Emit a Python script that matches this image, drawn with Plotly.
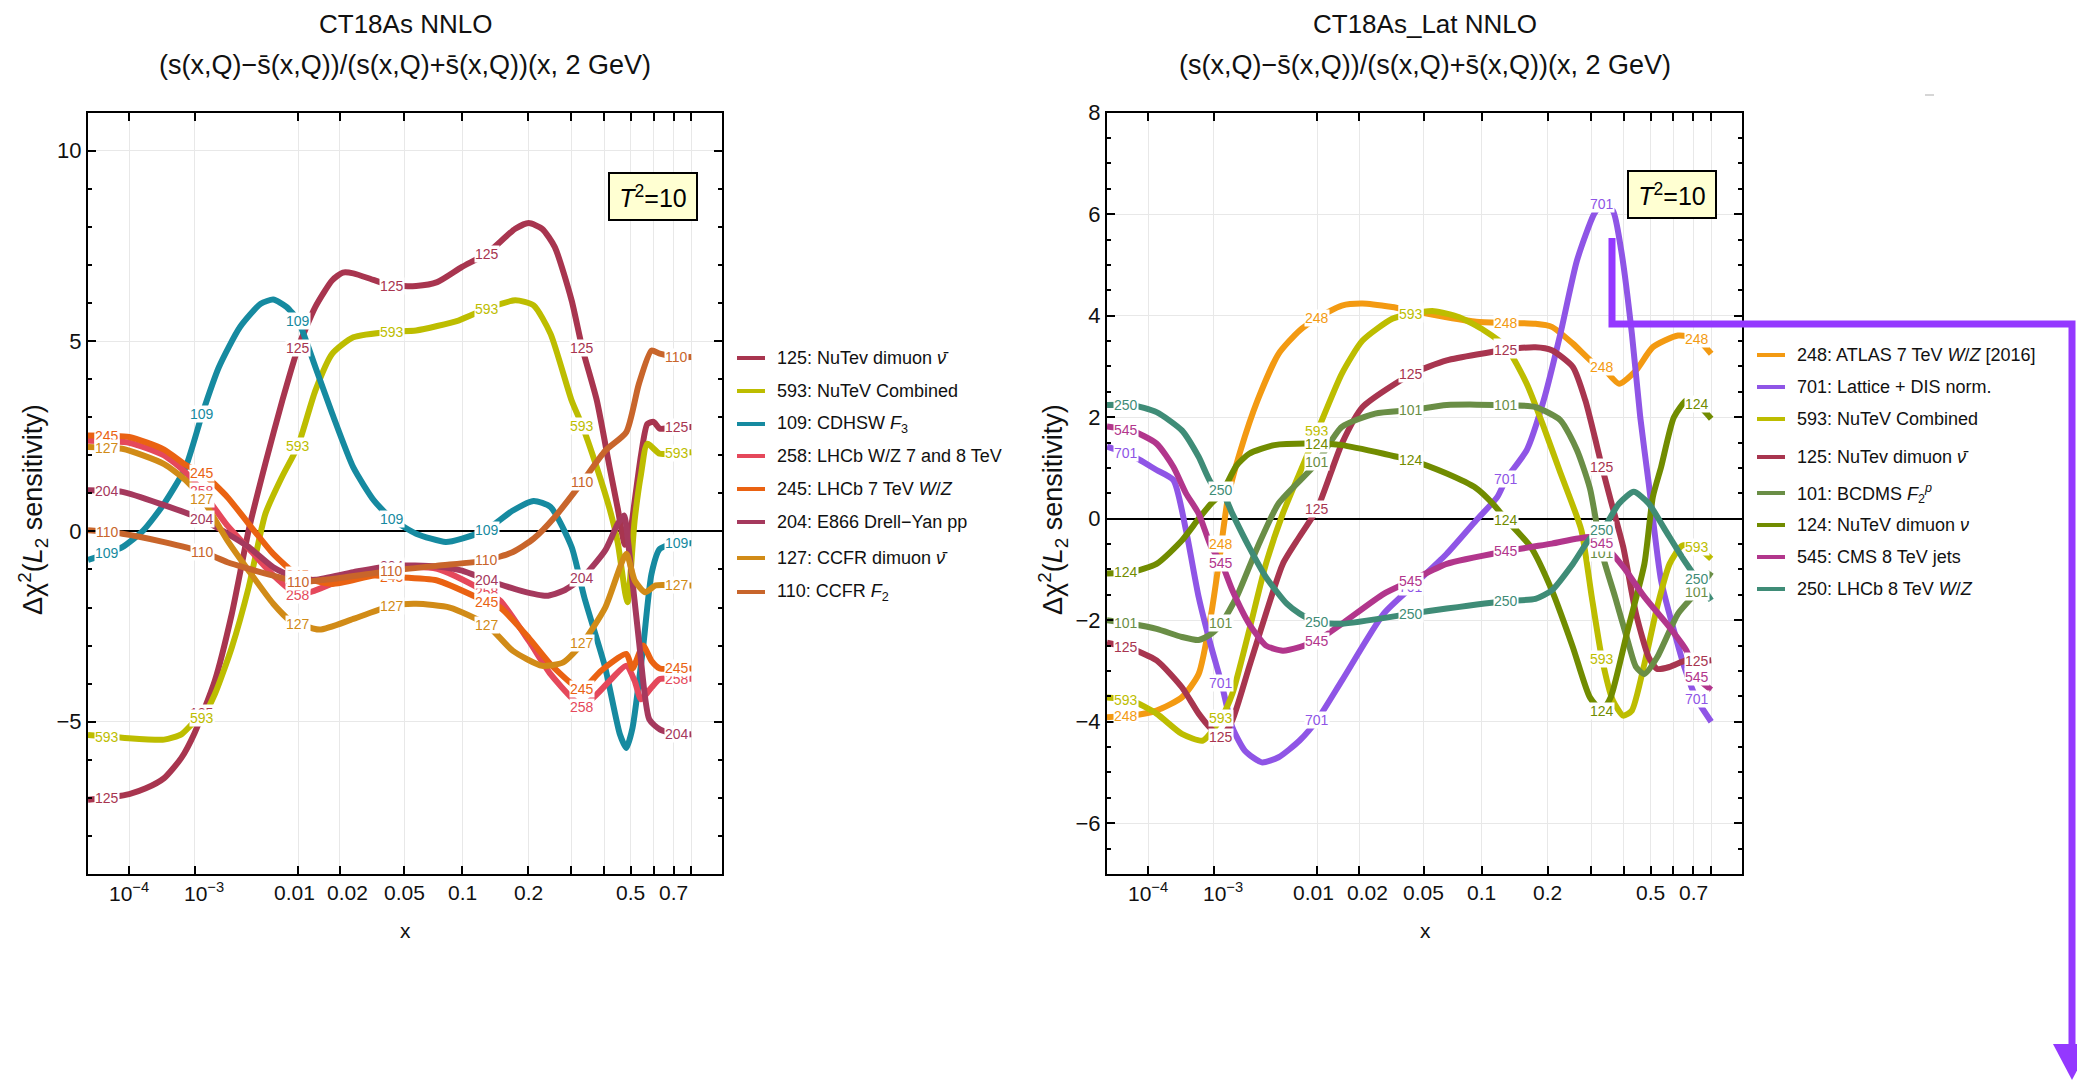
import numpy as np
import plotly.graph_objects as go

W, H = 2077, 1081
POW = 0.2  # horizontal scale is x**0.2
FONT = "Liberation Sans, Arial, Helvetica, sans-serif"

# ---------------- axis ticks ----------------
X_TICKS = [1e-4, 1e-3, 0.01, 0.02, 0.05, 0.1, 0.2, 0.3, 0.4, 0.5, 0.6, 0.7, 0.8]
X_LABEL_VALS = [1e-4, 1e-3, 0.01, 0.02, 0.05, 0.1, 0.2, 0.5, 0.7]
X_LABEL_TEXT = ['10<sup>−4</sup>', '10<sup>−3</sup>', '0.01', '0.02', '0.05', '0.1', '0.2', '0.5', '0.7']
X_LABEL_SHIFT = [0, 9, -4, 8, 0, 0, 0, 0, 0]
Y_TICKS_L = [-5, 0, 5, 10]
Y_TICKS_R = [-6, -4, -2, 0, 2, 4, 6, 8]

# x positions where curve labels sit (left end, ..., right end)
LABEL_X = [3.3e-5, 1.24e-3, 0.01, 0.0424, 0.131, 0.331, 0.717]

# ---------------- left panel: CT18As NNLO ----------------
xL125 = [1e-5, 4.9e-5, 1.0e-4, 2.0e-4, 3.9e-4, 6.8e-4, 1.0e-3, 1.72e-3, 2.6e-3, 3.8e-3, 5.4e-3, 7.5e-3,
         0.01, 0.0135, 0.0178, 0.021, 0.0246, 0.0333, 0.0424, 0.058, 0.075, 0.1, 0.131, 0.176, 0.201,
         0.229, 0.258, 0.301, 0.331, 0.376, 0.419, 0.449, 0.477, 0.498, 0.516, 0.543, 0.571, 0.6, 0.63,
         0.717, 0.8]
yL125 = [-7.05, -6.97, -6.9, -6.75, -6.48, -5.95, -5.3, -3.93, -2.17, 0.03, 1.8, 3.44, 4.82, 5.9, 6.6,
         6.8, 6.78, 6.6, 6.46, 6.45, 6.55, 6.95, 7.3, 7.95, 8.1, 7.95, 7.47, 6.07, 4.82, 3.44, 1.7, 0.6,
         -0.35, 0.0, 0.8, 2.0, 2.82, 2.88, 2.7, 2.74, 2.74]

xL593 = [1e-5, 7.3e-5, 3.9e-4, 6.8e-4, 1.0e-3, 1.24e-3, 1.72e-3, 2.6e-3, 3.8e-3, 5.4e-3, 7.5e-3, 0.01,
         0.0135, 0.0178, 0.0246, 0.0424, 0.058, 0.096, 0.131, 0.176, 0.211, 0.248, 0.301, 0.331, 0.376,
         0.419, 0.449, 0.477, 0.487, 0.516, 0.543, 0.571, 0.63, 0.717, 0.8]
yL593 = [-5.35, -5.42, -5.47, -5.33, -5.0, -4.9, -4.28, -3.05, -1.47, 0.47, 1.45, 2.25, 3.7, 4.67, 5.1,
         5.25, 5.28, 5.54, 5.85, 6.07, 5.94, 5.19, 3.44, 2.78, 1.68, 0.6, -0.3, -1.6, -1.86, 0.3, 1.5,
         2.3, 2.04, 2.06, 2.08]

xL109 = [1e-5, 7.3e-5, 1.82e-4, 3.9e-4, 7.7e-4, 1.24e-3, 1.91e-3, 3.14e-3, 4.9e-3, 6.3e-3, 8.1e-3, 0.01,
         0.0135, 0.0178, 0.0246, 0.0333, 0.0424, 0.058, 0.083, 0.1, 0.131, 0.172, 0.211, 0.248, 0.301,
         0.337, 0.404, 0.457, 0.482, 0.507, 0.552, 0.59, 0.63, 0.717, 0.8]
yL109 = [-0.75, -0.41, 0.03, 0.73, 1.68, 3.09, 4.32, 5.37, 5.98, 6.09, 5.9, 5.54, 4.32, 3.09, 1.68, 0.8,
         0.33, -0.06, -0.28, -0.19, 0.05, 0.55, 0.8, 0.64, -0.41, -1.73, -3.58, -5.33, -5.69, -5.16,
         -3.05, -1.12, -0.46, -0.31, -0.31]

xL258 = [1e-5, 1e-4, 3.9e-4, 7.7e-4, 1.24e-3, 2.35e-3, 3.8e-3, 6.3e-3, 0.01, 0.0135, 0.0246, 0.0424,
         0.075, 0.131, 0.151, 0.201, 0.248, 0.301, 0.331, 0.376, 0.419, 0.482, 0.516, 0.543, 0.59, 0.63,
         0.717, 0.8]
yL258 = [2.38, 2.33, 2.0, 1.55, 1.05, 0.15, -0.45, -1.15, -1.67, -1.55, -1.16, -0.95, -0.98, -1.6, -1.82,
         -2.87, -3.75, -4.37, -4.6, -4.28, -3.93, -3.53, -3.93, -4.41, -4.1, -3.88, -3.87, -3.87]

xL245 = [1e-5, 1e-4, 3.9e-4, 7.7e-4, 1.24e-3, 2.35e-3, 3.8e-3, 6.3e-3, 0.01, 0.0178, 0.0333, 0.0424,
         0.075, 0.131, 0.151, 0.201, 0.248, 0.301, 0.331, 0.39, 0.482, 0.507, 0.552, 0.59, 0.63, 0.717, 0.8]
yL245 = [2.52, 2.48, 2.15, 1.75, 1.53, 0.9, 0.2, -0.59, -1.15, -1.38, -1.16, -1.2, -1.29, -1.85, -2.0,
         -2.79, -3.49, -4.0, -4.15, -3.66, -3.22, -3.6, -3.0, -3.4, -3.6, -3.6, -3.6]

xL204 = [1e-5, 7.3e-5, 3.9e-4, 1.24e-3, 2.35e-3, 3.8e-3, 6.3e-3, 0.01, 0.0135, 0.0246, 0.0424, 0.075,
         0.1, 0.131, 0.187, 0.239, 0.279, 0.331, 0.404, 0.449, 0.473, 0.49, 0.534, 0.58, 0.63, 0.717, 0.8]
yL204 = [1.08, 1.04, 0.69, 0.32, -0.06, -0.41, -0.94, -1.25, -1.27, -1.07, -0.9, -0.92, -1.03, -1.27,
         -1.56, -1.69, -1.56, -1.22, -0.5, 0.2, 0.42, -0.33, -2.87, -4.94, -5.2, -5.33, -5.33]

xL127 = [1e-5, 7.3e-5, 3.9e-4, 7.7e-4, 1.24e-3, 2.35e-3, 3.8e-3, 6.3e-3, 8.7e-3, 0.01, 0.0145, 0.0246,
         0.0424, 0.058, 0.087, 0.131, 0.172, 0.229, 0.279, 0.331, 0.404, 0.482, 0.516, 0.561, 0.61,
         0.717, 0.8]
yL127 = [2.22, 2.17, 1.77, 1.35, 0.86, -0.24, -1.03, -1.9, -2.35, -2.42, -2.58, -2.3, -1.95, -1.9, -2.0,
         -2.45, -3.14, -3.53, -3.44, -2.94, -2.0, -0.59, -1.29, -1.6, -1.42, -1.42, -1.42]

xL110 = [1e-5, 7.3e-5, 3.9e-4, 1.24e-3, 2.35e-3, 3.8e-3, 6.3e-3, 0.01, 0.0178, 0.0424, 0.075, 0.131,
         0.172, 0.211, 0.258, 0.331, 0.404, 0.482, 0.534, 0.59, 0.63, 0.717, 0.8]
yL110 = [0.03, -0.06, -0.28, -0.54, -0.81, -0.98, -1.16, -1.32, -1.25, -1.03, -0.9, -0.76, -0.54, -0.19,
         0.38, 1.3, 2.12, 2.61, 3.88, 4.75, 4.67, 4.58, 4.58]

# ---------------- right panel: CT18As_Lat NNLO ----------------
xR248 = [1e-5, 4.4e-5, 1.43e-4, 3.72e-4, 6.42e-4, 9.34e-4, 1.18e-3, 1.48e-3, 2.03e-3, 3.02e-3, 4.76e-3,
         7.22e-3, 9.84e-3, 0.0152, 0.0211, 0.0326, 0.0424, 0.0665, 0.0941, 0.131, 0.177, 0.208, 0.254,
         0.308, 0.331, 0.384, 0.443, 0.509, 0.622, 0.717, 0.8]
yR248 = [-3.91, -3.88, -3.78, -3.52, -3.06, -1.87, -0.76, 0.43, 1.35, 2.33, 3.25, 3.71, 3.94, 4.2, 4.24,
         4.17, 4.1, 3.97, 3.88, 3.86, 3.84, 3.78, 3.45, 3.06, 2.99, 2.66, 2.92, 3.38, 3.61, 3.55, 3.25]

xR701 = [1e-5, 4.4e-5, 1.43e-4, 2.76e-4, 4.28e-4, 6.42e-4, 9.34e-4, 1.24e-3, 1.65e-3, 2.25e-3, 3.32e-3,
         4.76e-3, 7.22e-3, 0.01, 0.0152, 0.0289, 0.0424, 0.0665, 0.0941, 0.119, 0.131, 0.162, 0.192,
         0.226, 0.264, 0.308, 0.331, 0.364, 0.391, 0.428, 0.459, 0.492, 0.544, 0.602, 0.653, 0.717, 0.8]
yR701 = [1.42, 1.25, 0.96, 0.76, -0.23, -1.54, -2.53, -3.24, -4.11, -4.57, -4.8, -4.7, -4.37, -3.96,
         -3.19, -1.87, -1.35, -0.69, -0.03, 0.43, 0.79, 1.35, 2.33, 3.65, 5.09, 6.0, 6.2, 6.07, 5.29,
         3.65, 2.0, 0.7, -1.22, -2.2, -2.92, -3.55, -4.0]

xR593 = [1e-5, 4.4e-5, 1.43e-4, 3.72e-4, 7.31e-4, 1.24e-3, 1.65e-3, 2.49e-3, 3.64e-3, 5.19e-3, 7.22e-3,
         9.84e-3, 0.0152, 0.0211, 0.0326, 0.0424, 0.0569, 0.0774, 0.103, 0.131, 0.162, 0.192, 0.226,
         0.249, 0.275, 0.302, 0.331, 0.364, 0.398, 0.428, 0.475, 0.527, 0.582, 0.642, 0.717, 0.8]
yR593 = [-3.52, -3.58, -3.84, -4.24, -4.37, -3.92, -3.45, -2.2, -0.89, 0.1, 0.9, 1.68, 2.86, 3.51, 3.94,
         4.04, 4.09, 3.97, 3.71, 3.38, 2.66, 1.81, 0.9, 0.37, -0.23, -1.54, -2.76, -3.58, -3.88, -3.78,
         -2.86, -1.74, -0.89, -0.53, -0.55, -0.79]

xR125 = [1e-5, 4.4e-5, 1.43e-4, 3.72e-4, 6.42e-4, 9.34e-4, 1.24e-3, 1.65e-3, 2.49e-3, 3.64e-3, 5.19e-3,
         7.22e-3, 0.01, 0.0152, 0.0211, 0.0424, 0.0665, 0.131, 0.177, 0.208, 0.254, 0.285, 0.331, 0.357,
         0.398, 0.443, 0.492, 0.527, 0.582, 0.664, 0.717, 0.8]
yR125 = [-2.44, -2.56, -2.79, -3.32, -3.84, -4.14, -4.3, -3.97, -2.92, -1.87, -0.89, -0.35, 0.2, 1.48,
         2.2, 2.85, 3.12, 3.33, 3.38, 3.32, 2.99, 2.33, 1.02, 0.37, -0.56, -1.87, -2.73, -2.96, -2.92,
         -2.79, -2.81, -2.79]

xR101 = [1e-5, 4.4e-5, 1.43e-4, 3.72e-4, 6.42e-4, 9.34e-4, 1.24e-3, 1.84e-3, 3.02e-3, 4.76e-3, 9.84e-3,
         0.0152, 0.0255, 0.0424, 0.0665, 0.131, 0.177, 0.226, 0.264, 0.297, 0.331, 0.371, 0.413, 0.443,
         0.475, 0.527, 0.622, 0.717, 0.8]
yR101 = [-2.0, -2.07, -2.17, -2.33, -2.39, -2.27, -2.06, -1.54, -0.56, 0.3, 1.09, 1.81, 2.07, 2.14, 2.24,
         2.24, 2.2, 1.94, 1.35, 0.6, -0.68, -1.54, -2.4, -2.92, -3.06, -2.73, -1.87, -1.45, -1.05]

xR124 = [1e-5, 4.4e-5, 1.43e-4, 3.72e-4, 6.42e-4, 9.34e-4, 1.24e-3, 1.84e-3, 2.49e-3, 4.36e-3, 9.84e-3,
         0.0152, 0.0289, 0.0424, 0.0665, 0.0941, 0.113, 0.131, 0.169, 0.208, 0.254, 0.297, 0.331, 0.357,
         0.413, 0.475, 0.509, 0.544, 0.602, 0.664, 0.717, 0.8]
yR124 = [-1.08, -1.05, -0.89, -0.43, 0.0, 0.3, 0.5, 1.05, 1.28, 1.45, 1.48, 1.45, 1.28, 1.15, 0.89, 0.6,
         0.3, -0.02, -0.56, -1.41, -2.53, -3.52, -3.78, -3.52, -2.2, -0.89, 0.43, 1.02, 2.0, 2.33, 2.27,
         1.97]

xR545 = [1e-5, 4.4e-5, 1.43e-4, 2.76e-4, 4.28e-4, 6.42e-4, 9.34e-4, 1.24e-3, 1.65e-3, 2.49e-3, 3.64e-3,
         5.19e-3, 7.22e-3, 0.01, 0.0152, 0.0289, 0.0424, 0.0665, 0.131, 0.208, 0.297, 0.331, 0.398, 0.475,
         0.582, 0.664, 0.717, 0.8]
yR545 = [1.82, 1.74, 1.48, 1.02, 0.5, 0.1, -0.56, -0.87, -1.41, -2.07, -2.5, -2.6, -2.53, -2.4, -2.07,
         -1.48, -1.22, -0.89, -0.64, -0.49, -0.36, -0.48, -0.95, -1.54, -2.14, -2.6, -3.12, -3.37]

xR250 = [1e-5, 4.4e-5, 1.43e-4, 3.72e-4, 6.42e-4, 9.34e-4, 1.24e-3, 1.65e-3, 2.49e-3, 3.64e-3, 5.65e-3,
         7.22e-3, 0.01, 0.0152, 0.0424, 0.0665, 0.131, 0.177, 0.208, 0.254, 0.297, 0.331, 0.384, 0.435,
         0.492, 0.563, 0.642, 0.717, 0.8]
yR250 = [2.24, 2.24, 2.1, 1.74, 1.22, 0.7, 0.56, 0.1, -0.56, -1.15, -1.68, -1.87, -2.04, -2.07, -1.87,
         -1.77, -1.62, -1.58, -1.41, -0.89, -0.39, -0.23, 0.3, 0.53, 0.3, -0.23, -0.76, -1.18, -1.61]

# series: (id, legend text, colour, x, y, which labels are shown)
LEFT = [
    ('125', '125: NuTev dimuon <i>ν̄</i>', '#A8354F', xL125, yL125, [1, 1, 1, 1, 1, 1, 1]),
    ('593', '593: NuTeV Combined', '#BDBD00', xL593, yL593, [1, 1, 1, 1, 1, 1, 1]),
    ('109', '109: CDHSW <i>F</i><sub>3</sub>', '#168AA0', xL109, yL109, [1, 1, 1, 1, 1, 0, 1]),
    ('258', '258: LHCb W/Z 7 and 8 TeV', '#E5485B', xL258, yL258, [1, 1, 1, 1, 1, 1, 1]),
    ('245', '245: LHCb 7 TeV <i>W</i>/<i>Z</i>', '#EA6212', xL245, yL245, [1, 1, 1, 1, 1, 1, 1]),
    ('204', '204: E866 Drell−Yan pp', '#A5395D', xL204, yL204, [1, 1, 1, 1, 1, 1, 1]),
    ('127', '127: CCFR dimuon <i>ν̄</i>', '#D18B17', xL127, yL127, [1, 1, 1, 1, 1, 1, 1]),
    ('110', '110: CCFR <i>F</i><sub>2</sub>', '#C8652B', xL110, yL110, [1, 1, 1, 1, 1, 1, 1]),
]
RIGHT = [
    ('248', '248: ATLAS 7 TeV <i>W</i>/<i>Z</i> [2016]', '#F39A12', xR248, yR248, [1, 1, 1, 1, 1, 1, 1]),
    ('701', '701: Lattice + DIS norm.', '#8F55E6', xR701, yR701, [1, 1, 1, 1, 1, 1, 1]),
    ('593', '593: NuTeV Combined', '#BDBD00', xR593, yR593, [1, 1, 1, 1, 1, 1, 1]),
    ('125', '125: NuTev dimuon <i>ν̄</i>', '#A8354F', xR125, yR125, [1, 1, 1, 1, 1, 1, 1]),
    ('101', '101: BCDMS <i>F</i><sub>2</sub><sup><i>p</i></sup>', '#6A8E46', xR101, yR101, [1, 1, 1, 1, 1, 1, 1]),
    ('124', '124: NuTeV dimuon <i>ν</i>', '#718C00', xR124, yR124, [1, 1, 1, 1, 1, 1, 1]),
    ('545', '545: CMS 8 TeV jets', '#B2368C', xR545, yR545, [1, 1, 1, 1, 1, 1, 1]),
    ('250', '250: LHCb 8 TeV <i>W</i>/<i>Z</i>', '#3F8C77', xR250, yR250, [1, 1, 1, 1, 1, 1, 1]),
]


def px(v):
    return v / W


def py(v):
    return 1 - v / H


fig = go.Figure()
annotations = []
shapes = []

for series, xa, ya in ((LEFT, 'x', 'y'), (RIGHT, 'x2', 'y2')):
    for sid, name, col, xs, ys, flags in series:
        u = np.asarray(xs, float) ** POW
        fig.add_trace(go.Scatter(x=u, y=ys, mode='lines', xaxis=xa, yaxis=ya,
                                 line=dict(color=col, width=6, shape='spline', smoothing=0.6),
                                 showlegend=False, hoverinfo='skip'))
    for sid, name, col, xs, ys, flags in series:
        u = np.asarray(xs, float) ** POW
        for lx, show in zip(LABEL_X, flags):
            if not show:
                continue
            ul = lx ** POW
            yl = float(np.interp(ul, u, ys))
            annotations.append(dict(x=ul, y=yl, xref=xa, yref=ya, text=sid, showarrow=False,
                                    font=dict(size=14, color=col, family=FONT),
                                    bgcolor='white', borderpad=0, xanchor='center', yanchor='middle'))
    # x tick labels (placed individually, as in the reference)
    for v, t, sh in zip(X_LABEL_VALS, X_LABEL_TEXT, X_LABEL_SHIFT):
        annotations.append(dict(x=v ** POW, y=py(892), xref=xa, yref='paper', text=t, xshift=sh,
                                showarrow=False, xanchor='center', yanchor='middle',
                                font=dict(size=21, color='#111111', family=FONT)))

# ---------------- manual legends ----------------
LEG_L_Y = [358, 391, 424, 456, 489, 522, 558, 592]
LEG_R_Y = [355, 387, 419, 457, 493, 525, 557, 589]
for series, ys_px, x0, x1, xt in ((LEFT, LEG_L_Y, 737, 765, 775), (RIGHT, LEG_R_Y, 1757, 1785, 1795)):
    for (sid, name, col, xs, ys, flags), yp in zip(series, ys_px):
        shapes.append(dict(type='line', xref='paper', yref='paper', x0=px(x0), x1=px(x1),
                           y0=py(yp), y1=py(yp), line=dict(color=col, width=4)))
        annotations.append(dict(x=px(xt), y=py(yp), xref='paper', yref='paper', text=name,
                                showarrow=False, xanchor='left', yanchor='middle',
                                font=dict(size=18, color='#111111', family=FONT)))

# ---------------- titles ----------------
SUB = '(s(x,Q)−s\u0304(x,Q))/(s(x,Q)+s\u0304(x,Q))(x, 2 GeV)'
for cx, t1 in ((405, 'CT18As NNLO'), (1425, 'CT18As_Lat NNLO')):
    annotations.append(dict(x=px(cx), y=py(24), xref='paper', yref='paper', text=t1, showarrow=False,
                            font=dict(size=26, color='#111111', family=FONT), xanchor='center', yanchor='middle'))
    annotations.append(dict(x=px(cx), y=py(65), xref='paper', yref='paper', text=SUB, showarrow=False,
                            font=dict(size=27, color='#111111', family=FONT), xanchor='center', yanchor='middle'))
    annotations.append(dict(x=px(cx), y=py(930), xref='paper', yref='paper', text='x', showarrow=False,
                            font=dict(size=21, color='#111111', family=FONT), xanchor='center', yanchor='middle'))
for cx in (33, 1053):
    annotations.append(dict(x=px(cx), y=py(510), xref='paper', yref='paper',
                            text='Δχ<sup>2</sup>(<i>L</i><sub>2</sub> sensitivity)', textangle=-90,
                            showarrow=False, font=dict(size=27, color='#111111', family=FONT),
                            xanchor='center', yanchor='middle'))

# T^2 boxes
for cx, cy in ((653, 196), (1672, 194)):
    annotations.append(dict(x=px(cx), y=py(cy), xref='paper', yref='paper',
                            text='<i>T</i><sup>2</sup>=10', showarrow=False,
                            font=dict(size=25, color='black', family=FONT),
                            bgcolor='#FFFFD2', bordercolor='black', borderwidth=2, borderpad=1,
                            width=84, height=43, xanchor='center', yanchor='middle'))

# purple arrow annotation drawn on the figure
PURPLE = '#9438FF'
path = (f"M {px(1612)},{py(238)} L {px(1612)},{py(324)} L {px(2072)},{py(324)} "
        f"L {px(2072)},{py(1048)}")
shapes.append(dict(type='path', xref='paper', yref='paper', path=path,
                   line=dict(color=PURPLE, width=7)))
shapes.append(dict(type='path', xref='paper', yref='paper',
                   path=f"M {px(2053)},{py(1044)} L {px(2091)},{py(1044)} L {px(2072)},{py(1080)} Z",
                   fillcolor=PURPLE, line=dict(width=0)))
shapes.append(dict(type='line', xref='paper', yref='paper', x0=px(1925), x1=px(1934),
                   y0=py(95), y1=py(95), line=dict(color='#C8C8C8', width=1.5)))

# ---------------- axes ----------------
xt_u = [v ** POW for v in X_TICKS]
xcommon = dict(range=[0.1, 1.0], tickvals=xt_u, showticklabels=False, ticks='inside', ticklen=8,
               tickwidth=1.5, tickcolor='black', showline=True, linecolor='black', linewidth=2,
               mirror='allticks', showgrid=True, gridcolor='#E8E8E8', gridwidth=1, zeroline=False,
               automargin=False, fixedrange=True)
ycommon = dict(ticks='inside', ticklen=8, tickwidth=1.5, tickcolor='black', showline=True,
               linecolor='black', linewidth=2, mirror='allticks', showgrid=True, gridcolor='#E8E8E8',
               gridwidth=1, zeroline=True, zerolinecolor='black', zerolinewidth=1.5, automargin=False,
               tickfont=dict(size=22, family=FONT, color='#111111'), fixedrange=True)

ydom = [py(874), py(112.7)]
fig.update_layout(
    template='none',
    width=W, height=H, margin=dict(l=0, r=0, t=0, b=0, pad=0), autosize=False,
    paper_bgcolor='white', plot_bgcolor='white', showlegend=False, hovermode=False,
    xaxis=dict(domain=[px(88), px(722)], anchor='y', **xcommon),
    xaxis2=dict(domain=[px(1107), px(1742)], anchor='y2', **xcommon),
    yaxis=dict(domain=ydom, anchor='x', range=[-9, 11], tickvals=Y_TICKS_L,
               minor=dict(dtick=1, tick0=0, ticklen=4, tickwidth=1.5, tickcolor='black',
                          ticks='inside', showgrid=False), **ycommon),
    yaxis2=dict(domain=ydom, anchor='x2', range=[-7, 8], tickvals=Y_TICKS_R,
                minor=dict(dtick=0.5, tick0=0, ticklen=4, tickwidth=1.5, tickcolor='black',
                           ticks='inside', showgrid=False), **ycommon),
    annotations=annotations, shapes=shapes,
)

fig.write_html("out.html")
